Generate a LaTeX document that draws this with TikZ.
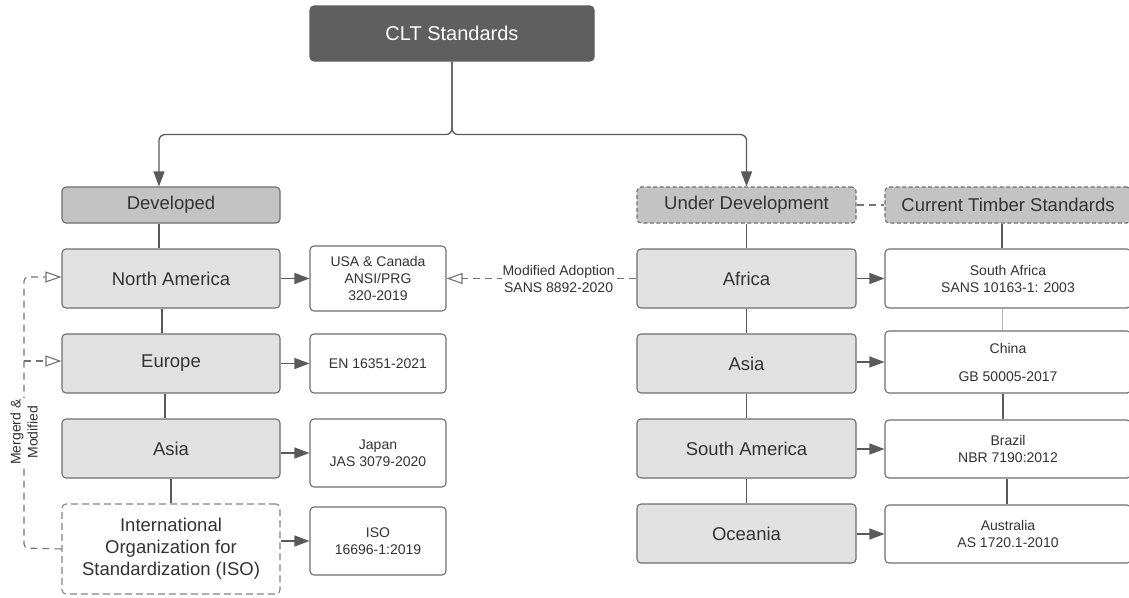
\documentclass[tikz,border=0pt]{standalone}
\usepackage{fontspec}
\setmainfont{Liberation Sans}
\usetikzlibrary{arrows.meta}
\definecolor{ink}{HTML}{333333}
\definecolor{edge}{HTML}{6E6E6E}
\definecolor{wire}{HTML}{5A5A5A}
\definecolor{dark}{HTML}{5F5F5F}
\definecolor{mid}{HTML}{C3C3C3}
\definecolor{light}{HTML}{E1E1E1}
\begin{document}
\begin{tikzpicture}[x=1pt,y=-1pt,
  box/.style={draw=edge, line width=1.1pt, rounded corners=4pt, text=ink, align=center, inner sep=0pt},
  rootbox/.style={box, fill=dark, draw=dark, text=white, font=\fontsize{20}{24}\selectfont},
  headbox/.style={box, fill=mid, font=\fontsize{18.5}{22}\selectfont},
  regionbox/.style={box, fill=light, font=\fontsize{18.5}{22}\selectfont},
  stdbox/.style={box, fill=white, font=\fontsize{14}{17}\selectfont},
  headdash/.style={dash pattern=on 4pt off 2.5pt},
  boxdash/.style={draw=edge!85, dash pattern=on 7pt off 4pt},
  link/.style={draw=wire, line width=1.3pt},
  faintlink/.style={draw=edge!50, line width=0.8pt},
  arrowlink/.style={link, -{Triangle[length=15pt,width=11pt]}},
  dlink/.style={draw=wire!85, line width=1.1pt, dash pattern=on 7pt off 5pt},
  openlink/.style={dlink, -{Triangle[open, length=16pt, width=11pt]}},
  note/.style={text=ink, fill=white, align=center, inner sep=1pt, font=\fontsize{14}{17}\selectfont},
]
\useasboundingbox (0,0) rectangle (1129,597);

% root
\node[rootbox, minimum width=284pt, minimum height=55pt] (clt) at (452,33.5) {CLT Standards};

% developed branch
\node[headbox, minimum width=218pt, minimum height=36pt] (dev) at (171,205) {Developed};
\node[regionbox, minimum width=218pt, minimum height=59pt] (na) at (171,278.5) {North America};
\node[regionbox, minimum width=218pt, minimum height=59pt] (eu) at (171,363.5) {Europe};
\node[regionbox, minimum width=218pt, minimum height=59pt] (asl) at (171,448.5) {Asia};
\node[box, boxdash, fill=white, minimum width=218pt, minimum height=90pt,
      font=\fontsize{18.5}{22}\selectfont] (iso) at (171,549)
      {International\\Organization for\\Standardization (ISO)};

\node[stdbox, minimum width=136pt, minimum height=65pt] (usa) at (378,278.5) {USA \& Canada\\ANSI/PRG\\320-2019};
\node[stdbox, minimum width=136pt, minimum height=59pt] (en) at (378,363.5) {EN 16351-2021};
\node[stdbox, minimum width=136pt, minimum height=68pt] (jas) at (378,453) {Japan\\JAS 3079-2020};
\node[stdbox, minimum width=136pt, minimum height=68pt] (isostd) at (378,541) {ISO\\16696-1:2019};

% under-development branch
\node[headbox, headdash, minimum width=219pt, minimum height=36pt] (ud) at (746.5,205) {Under Development};
\node[headbox, headdash, minimum width=246pt, minimum height=36pt] (cts) at (1008,205) {Current Timber Standards};
\node[regionbox, minimum width=219pt, minimum height=59pt] (af) at (746.5,278.5) {Africa};
\node[regionbox, minimum width=219pt, minimum height=59pt] (asr) at (746.5,363.5) {Asia};
\node[regionbox, minimum width=219pt, minimum height=59pt] (sam) at (746.5,448.5) {South America};
\node[regionbox, minimum width=219pt, minimum height=59pt] (oc) at (746.5,533.5) {Oceania};

\node[stdbox, minimum width=246pt, minimum height=59pt] (saf) at (1008,278.5) {South Africa\\SANS 10163-1: 2003};
\node[stdbox, minimum width=246pt, minimum height=62pt] (cn) at (1008,362) {China\\[11pt]GB 50005-2017};
\node[stdbox, minimum width=246pt, minimum height=58pt] (br) at (1008,449) {Brazil\\NBR 7190:2012};
\node[stdbox, minimum width=246pt, minimum height=58pt] (au) at (1008,534) {Australia\\AS 1720.1-2010};

% root split
\draw[arrowlink, rounded corners=6pt] (clt.south) -- ++(0,73) -| ([xshift=-12pt]dev.north);
\draw[arrowlink, rounded corners=6pt] (clt.south) -- ++(0,73) -| (ud.north);

% vertical chains
\draw[link] ([xshift=-12pt]dev.south) -- ([xshift=-12pt]na.north);
\draw[link] ([xshift=-9pt]na.south) -- ([xshift=-9pt]eu.north);
\draw[link] ([xshift=-6pt]eu.south) -- ([xshift=-6pt]asl.north);
\draw[link] (asl.south) -- (iso.north);

\draw[link] (ud.south) -- (af.north);
\draw[link] (af.south) -- (asr.north);
\draw[link] (asr.south) -- (sam.north);
\draw[link] (sam.south) -- (oc.north);

\draw[link] ([xshift=-6pt]cts.south) -- ([xshift=-6pt]saf.north);
\draw[faintlink] ([xshift=-6pt]saf.south) -- ([xshift=-6pt]cn.north);
\draw[link] ([xshift=-5pt]cn.south) -- ([xshift=-5pt]br.north);
\draw[link] ([xshift=-1pt]br.south) -- ([xshift=-1pt]au.north);

% region to standard
\draw[arrowlink] (usa.west -| na.east) -- (usa.west);
\draw[arrowlink] (en.west -| eu.east) -- (en.west);
\draw[arrowlink] (jas.west -| asl.east) -- (jas.west);
\draw[arrowlink] (isostd.west -| iso.east) -- (isostd.west);

\draw[arrowlink] (saf.west -| af.east) -- (saf.west);
\draw[arrowlink] (cn.west -| asr.east) -- (cn.west);
\draw[arrowlink] (br.west -| sam.east) -- (br.west);
\draw[arrowlink] (au.west -| oc.east) -- (au.west);

% dashed relations
\draw[dlink] (ud.east) -- (cts.west);
\draw[openlink] (af.west) -- (af.west -| usa.east)
  node[note, pos=0.41] (adopt) {Modified Adoption\\SANS 8892-2020};

\coordinate (mtop) at (24,277);
\coordinate (meu) at (24,361);
\coordinate (mbot) at (24,548);
\draw[openlink, rounded corners=4pt] (iso.west) -- (mbot) -- (mtop) -- (mtop -| na.west);
\draw[openlink] (meu) -- (meu -| eu.west);
\node[note, rotate=90] (merge) at (24,432) {Mergerd \&\\Modified};

\end{tikzpicture}
\end{document}
